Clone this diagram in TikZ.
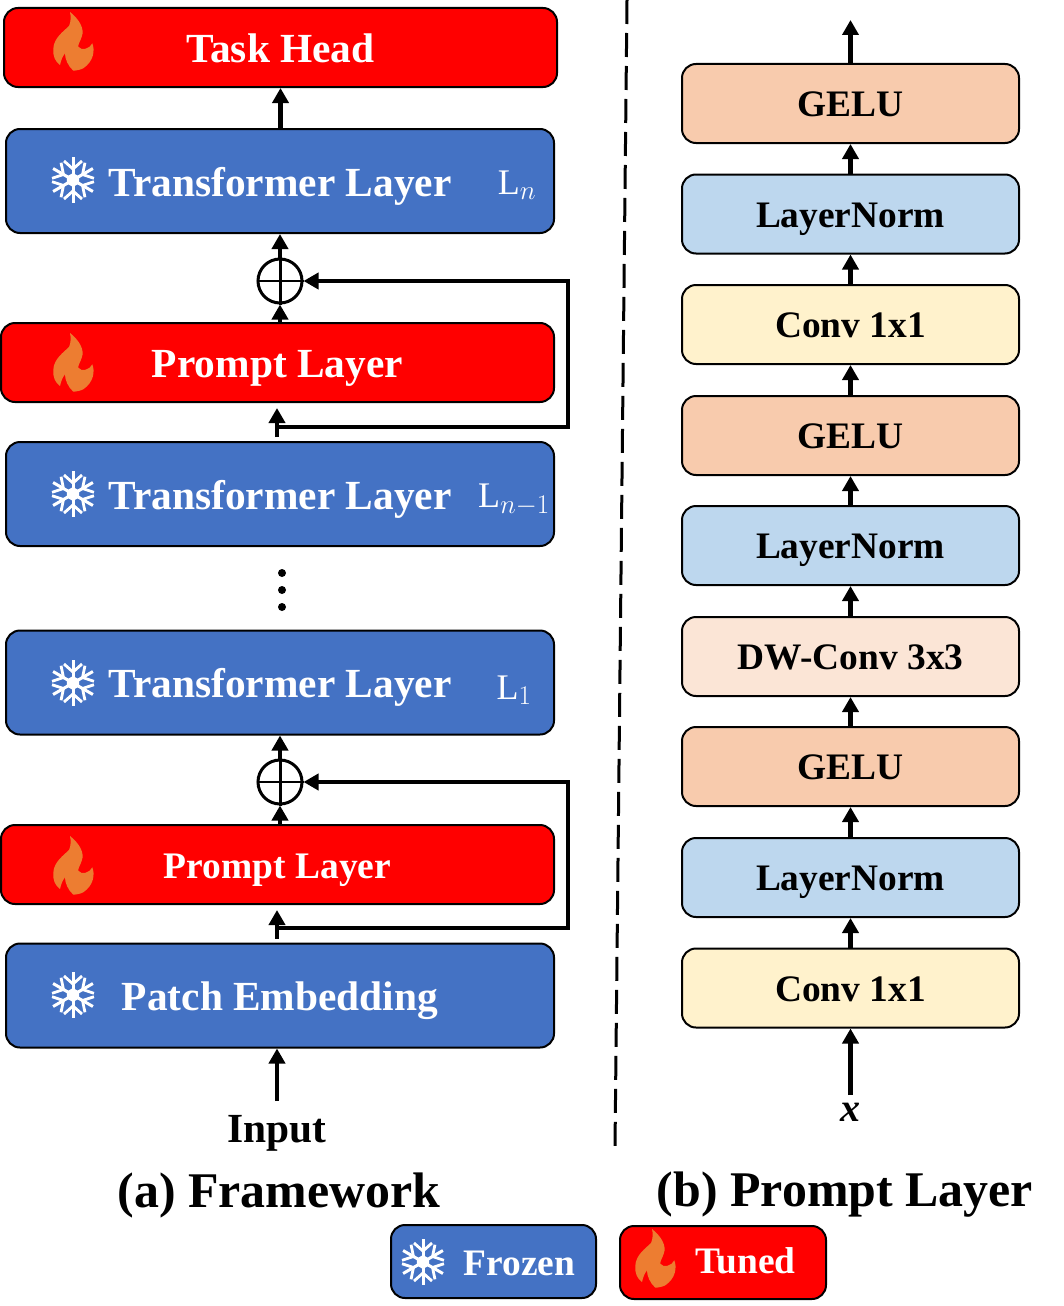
\documentclass[tikz,border=0pt]{standalone}
\usepackage{fix-cm}
\usepackage{fontspec}
\usepackage{amsmath}
\setmainfont{Liberation Serif}
\usetikzlibrary{arrows.meta}
\definecolor{blue1}{RGB}{68, 114, 196}
\definecolor{red1}{RGB}{255, 0, 0}
\definecolor{flame1}{RGB}{237, 125, 49}
\definecolor{gelu1}{RGB}{248, 203, 173}
\definecolor{norm1}{RGB}{189, 215, 238}
\definecolor{conv1}{RGB}{255, 242, 204}
\definecolor{dw1}{RGB}{251, 229, 214}
\DeclareMathSizes{36}{36}{27}{20}
\newcommand{\boldsize}[1]{\fontsize{#1}{#1}\selectfont\bfseries}
\tikzset{
  layerbox/.style={draw=black, line width=2pt, rounded corners=14pt, inner sep=0pt, text=white, font=\boldsize{41.4}, text height=30pt, text depth=0pt},
  frozen/.style={layerbox, fill=blue1, minimum width=548pt, minimum height=104pt},
  tuned/.style={layerbox, fill=red1, minimum height=79pt},
  block/.style={layerbox, text=black, minimum width=337pt, minimum height=79pt, font=\boldsize{37.4}, text height=26.5pt},
  layerid/.style={font=\fontsize{36}{36}\selectfont, text=white},
  flow/.style={line width=4.5pt, -{Triangle[length=15pt,width=16pt]}},
  flame/.pic={
    \fill[flame1] (-3,-29) .. controls (6,-22) and (12,-12) .. (8.7,-4.3) .. controls (7.5,0) and (5,3) .. (5.3,5.7)
      .. controls (8,10) and (17,8) .. (19.3,2.3) .. controls (22,9) and (21,20) .. (10.3,27.3)
      .. controls (7,29) and (3,29.5) .. (0.3,29.7) .. controls (-5,25) and (-8,18) .. (-8,12.3)
      .. controls (-11,16) and (-12,20) .. (-13,24) .. controls (-18,20) and (-20,16) .. (-19.7,8)
      .. controls (-19.5,-3) and (-9,-10) .. (-4,-15) .. controls (-2,-19) and (-2,-25) .. (-3,-29) -- cycle;
  },
  snowflake/.pic={
    \fill[white] (30:7) -- (90:7) -- (150:7) -- (210:7) -- (270:7) -- (330:7) -- cycle;
    \foreach \ang in {30,90,...,330} {
      \draw[white, line width=3pt, rotate=\ang] (0,0) -- (23,0);
      \draw[white, line width=2.8pt, rotate=\ang] (19,-9) -- (11,0) -- (19,9);
    }
  }
}
\begin{document}
\begin{tikzpicture}[x=1pt, y=-1pt]
  \useasboundingbox (0,0) rectangle (1063,1306);
  % left column
  \node[tuned, minimum width=553pt] (head) at (280.5,47.5) {Task Head};
  \node[frozen] (tfn) at (280,181) {Transformer Layer};
  \node[tuned, minimum width=553pt] (prompt2) at (277.5,362.5) {Prompt Layer};
  \node[frozen] (tfm) at (280,494) {Transformer Layer};
  \node[frozen] (tf1) at (280,682.5) {Transformer Layer};
  \node[tuned, minimum width=553pt, font=\boldsize{37.5}, text height=27pt] (prompt1) at (277.5,864.5) {Prompt Layer};
  \node[frozen] (patch) at (280,995.5) {Patch Embedding};
  \node[layerid] (ln) at (517,185) {$\mathrm{L}_n$};
  \node[layerid] (lm) at (514,500) {$\mathrm{L}_{n-1}$};
  \node[layerid] (l1) at (514,690) {$\mathrm{L}_1$};
  \foreach \y in {180,494,683,995}
    \pic at (73,\y) {snowflake};
  \foreach \y in {41,362,865}
    \pic at (73,\y) {flame};
  \node[circle, draw, line width=3pt, minimum size=44pt, inner sep=0pt] (add2) at (280,281) {};
  \node[circle, draw, line width=3pt, minimum size=44pt, inner sep=0pt] (add1) at (280,782) {};
  \foreach \n in {add1, add2} {
    \draw[line width=3pt] (\n.north) -- (\n.south);
    \draw[line width=2.5pt] (\n.west) -- (\n.east);
  }
  \foreach \i in {573,590,607}
    \fill (282,\i) circle (4);
  % arrows of the left column
  \draw[flow] (tfn.north -| head.south) -- (head.south);
  \draw[flow] (add2.north) -- (tfn.south);
  \draw[flow] (prompt2.north -| add2.south) -- (add2.south);
  \draw[flow] (add1.north) -- (tf1.south);
  \draw[flow] (prompt1.north -| add1.south) -- (add1.south);
  \coordinate (tap2) at (277,427);
  \coordinate (tap1) at (277,928);
  \coordinate (in1) at (277,1101);
  \draw[flow, shorten <=4pt, shorten >=5pt] (tfm.north -| tap2) -- (prompt2.south -| tap2);
  \draw[flow, shorten <=4pt, shorten >=5pt] (patch.north -| tap1) -- (prompt1.south -| tap1);
  \draw[flow] (tap2) -| (568,281) -- (add2.east);
  \draw[flow] (tap1) -| (568,782) -- (add1.east);
  \draw[flow] (in1) -- (patch.south -| in1);
  \node[font=\boldsize{41.4}] (input) at (277,1129) [yshift=-4pt] {Input};
  % dashed divider
  \coordinate (d1) at (627,0);
  \coordinate (d2) at (615,1147);
  \draw[line width=3pt, dash pattern=on 24pt off 9pt] (d1) -- (d2);
  % right column
  \node[block, fill=gelu1] (g3) at (850.5,103.5) {GELU};
  \node[block, fill=norm1] (n3) at (850.5,214) {LayerNorm};
  \node[block, fill=conv1] (c2) at (850.5,324.5) {Conv 1x1};
  \node[block, fill=gelu1] (g2) at (850.5,435.5) {GELU};
  \node[block, fill=norm1] (n2) at (850.5,545.5) {LayerNorm};
  \node[block, fill=dw1] (dw) at (850.5,656.5) {DW-Conv 3x3};
  \node[block, fill=gelu1] (g1) at (850.5,766.5) {GELU};
  \node[block, fill=norm1] (n1) at (850.5,877.5) {LayerNorm};
  \node[block, fill=conv1] (c1) at (850.5,988) {Conv 1x1};
  \foreach \from/\to in {c1/n1, n1/g1, g1/dw, dw/n2, n2/g2, g2/c2, c2/n3, n3/g3}
    \draw[flow] (\from) -- (\to);
  \coordinate (top) at (850.5,20);
  \coordinate (in2) at (850.5,1095);
  \draw[flow] (g3) -- (top);
  \draw[flow] (in2) -- (c1);
  \node[font=\fontsize{40}{40}\selectfont\bfseries\itshape] (x) at (850,1112) {x};
  % captions
  \node[font=\boldsize{49.9}] (cap1) at (279,1195) {(a) Framework};
  \node[font=\boldsize{49.9}] (cap2) at (845,1195) {(b) Prompt Layer};
  % legend
  \node[layerbox, fill=blue1, minimum width=205pt, minimum height=73pt] (frz) at (493.5,1261.5) {};
  \node[layerbox, fill=red1, minimum width=206pt, minimum height=73pt] (tnd) at (723,1262.5) {};
  \node[font=\boldsize{37.4}, text=white] (frzt) at (519.5,1263) {Frozen};
  \node[font=\boldsize{37.4}, text=white] (tndt) at (745.5,1261) {Tuned};
  \pic at (423,1262) {snowflake};
  \pic at (655,1258) {flame};
\end{tikzpicture}
\end{document}
